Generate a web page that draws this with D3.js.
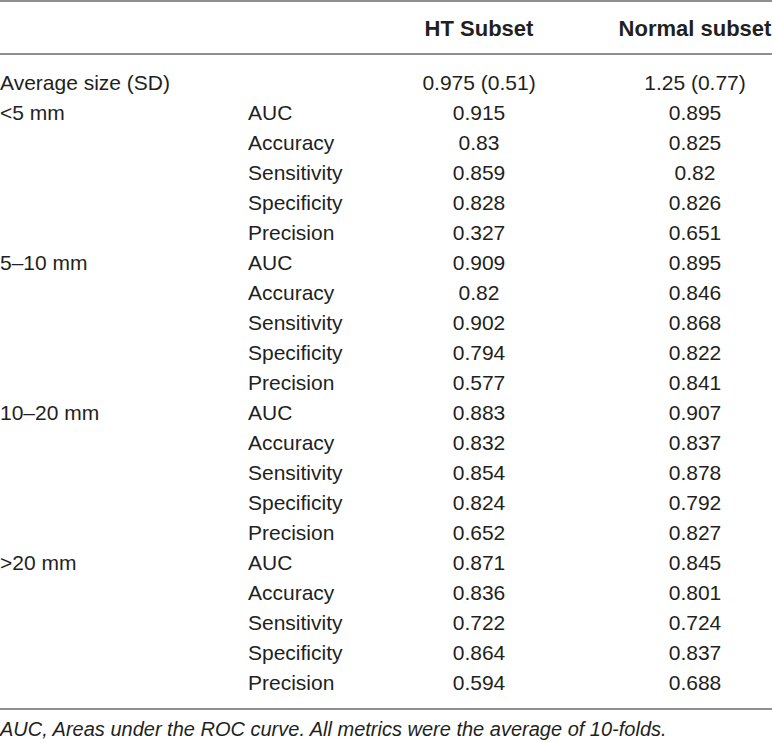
<!DOCTYPE html>
<html>
<head>
<meta charset="utf-8">
<script src="https://cdn.jsdelivr.net/npm/d3@7"></script>
<style>
  body { margin: 0; background: #fff; }
  svg text { font-family: "Liberation Sans", Arial, sans-serif; fill: #231f20; }
</style>
</head>
<body>
<div id="table"></div>
<script>
// Table contents
const columns = ["HT Subset", "Normal subset"];
const sizeGroups = ["<5 mm", "5\u201310 mm", "10\u201320 mm", ">20 mm"];
const metrics = ["AUC", "Accuracy", "Sensitivity", "Specificity", "Precision"];
const averageSize = ["0.975 (0.51)", "1.25 (0.77)"];
const htValues = [
    ["0.915", "0.83", "0.859", "0.828", "0.327"],
    ["0.909", "0.82", "0.902", "0.794", "0.577"],
    ["0.883", "0.832", "0.854", "0.824", "0.652"],
    ["0.871", "0.836", "0.722", "0.864", "0.594"]
];
const normalValues = [
    ["0.895", "0.825", "0.82", "0.826", "0.651"],
    ["0.895", "0.846", "0.868", "0.822", "0.841"],
    ["0.907", "0.837", "0.878", "0.792", "0.827"],
    ["0.845", "0.801", "0.724", "0.837", "0.688"]
];
const footnote = "AUC, Areas under the ROC curve. All metrics were the average of 10-folds.";

drawTable();

function drawTable() {
    const width = 772, height = 742;

    // Build the rows in display order
    const rows = [{ group: "Average size (SD)", metric: "", vals: averageSize }];
    sizeGroups.forEach(function(g, i) {
        metrics.forEach(function(m, j) {
            rows.push({
                group: j === 0 ? g : "",
                metric: m,
                vals: [htValues[i][j], normalValues[i][j]]
            });
        });
    });

    const svg = d3.select("#table")
        .append("svg")
        .attr("width", width)
        .attr("height", height);

    // Row positions (centre of each body row)
    const y = d3.scalePoint()
        .domain(d3.range(rows.length))
        .range([83, 683]);

    // Column centres for the value columns
    const x = d3.scaleOrdinal()
        .domain(columns)
        .range([479, 695]);

    const fontSize = 21;

    // Rules
    const rules = [1, 54, 709];
    svg.selectAll("line.rule")
        .data(rules)
        .enter()
        .append("line")
        .attr("class", "rule")
        .attr("x1", 0)
        .attr("x2", width)
        .attr("y1", d => d)
        .attr("y2", d => d)
        .attr("stroke", "#8f8f8f")
        .attr("stroke-width", 1.8);

    // Header
    svg.selectAll("text.head")
        .data(columns)
        .enter()
        .append("text")
        .attr("class", "head")
        .attr("x", d => x(d))
        .attr("y", 28)
        .attr("dy", "0.35em")
        .attr("text-anchor", "middle")
        .style("font-size", "22px")
        .style("font-weight", "bold")
        .text(d => d);

    // Body rows
    const row = svg.selectAll("g.row")
        .data(rows)
        .enter()
        .append("g")
        .attr("class", "row")
        .attr("transform", (d, i) => `translate(0,${y(i)})`);

    row.append("text")
        .attr("x", 0)
        .attr("dy", "0.35em")
        .style("font-size", fontSize + "px")
        .text(d => d.group);

    row.append("text")
        .attr("x", 248)
        .attr("dy", "0.35em")
        .style("font-size", fontSize + "px")
        .text(d => d.metric);

    columns.forEach(function(c, k) {
        row.append("text")
            .attr("x", x(c))
            .attr("dy", "0.35em")
            .attr("text-anchor", "middle")
            .style("font-size", fontSize + "px")
            .text(d => d.vals[k]);
    });

    // Footnote
    svg.append("text")
        .attr("x", 0)
        .attr("y", 729)
        .attr("dy", "0.35em")
        .style("font-size", "20px")
        .style("font-style", "italic")
        .text(footnote);
}
</script>
</body>
</html>
